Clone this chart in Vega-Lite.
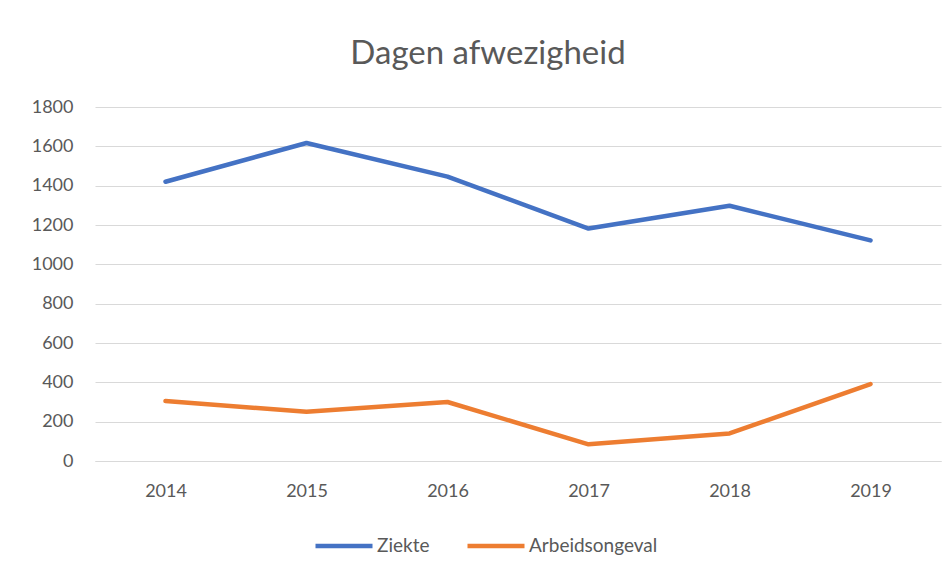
{
  "$schema": "https://vega.github.io/schema/vega-lite/v6.json",
  "width": 846,
  "height": 354,
  "autosize": {"type": "none"},
  "padding": {"left": 95, "top": 107, "right": 10, "bottom": 118},
  "background": "white",
  "title": {
    "text": "Dagen afwezigheid",
    "anchor": "middle",
    "dx": -30,
    "offset": 27,
    "font": "Lato",
    "fontSize": 33,
    "fontWeight": "normal",
    "color": "#595959"
  },
  "data": {
    "values": [
      {"jaar": "2014", "reeks": "Ziekte", "dagen": 1420},
      {"jaar": "2015", "reeks": "Ziekte", "dagen": 1617},
      {"jaar": "2016", "reeks": "Ziekte", "dagen": 1446},
      {"jaar": "2017", "reeks": "Ziekte", "dagen": 1182},
      {"jaar": "2018", "reeks": "Ziekte", "dagen": 1298},
      {"jaar": "2019", "reeks": "Ziekte", "dagen": 1122},
      {"jaar": "2014", "reeks": "Arbeidsongeval", "dagen": 305},
      {"jaar": "2015", "reeks": "Arbeidsongeval", "dagen": 250},
      {"jaar": "2016", "reeks": "Arbeidsongeval", "dagen": 300},
      {"jaar": "2017", "reeks": "Arbeidsongeval", "dagen": 85},
      {"jaar": "2018", "reeks": "Arbeidsongeval", "dagen": 140},
      {"jaar": "2019", "reeks": "Arbeidsongeval", "dagen": 391}
    ]
  },
  "mark": {"type": "line", "strokeWidth": 4.5, "strokeCap": "round", "strokeJoin": "round"},
  "encoding": {
    "x": {
      "field": "jaar",
      "type": "ordinal",
      "scale": {"type": "point", "padding": 0.5},
      "axis": {
        "title": null,
        "labelAngle": 0,
        "ticks": false,
        "grid": false,
        "domain": true,
        "domainColor": "#d9d9d9",
        "domainWidth": 1,
        "labelFont": "Lato",
        "labelFontSize": 18,
        "labelColor": "#595959",
        "labelPadding": 21
      }
    },
    "y": {
      "field": "dagen",
      "type": "quantitative",
      "scale": {"domain": [0, 1800], "nice": false},
      "axis": {
        "title": null,
        "values": [0, 200, 400, 600, 800, 1000, 1200, 1400, 1600, 1800],
        "format": "d",
        "ticks": false,
        "domain": false,
        "grid": true,
        "gridColor": "#d9d9d9",
        "gridWidth": 1,
        "labelFont": "Lato",
        "labelFontSize": 18,
        "labelColor": "#595959",
        "labelPadding": 22
      }
    },
    "color": {
      "field": "reeks",
      "type": "nominal",
      "sort": ["Ziekte", "Arbeidsongeval"],
      "scale": {"domain": ["Ziekte", "Arbeidsongeval"], "range": ["#4472C4", "#ED7D31"]},
      "legend": {
        "title": null,
        "orient": "none",
        "direction": "horizontal",
        "legendX": 218,
        "legendY": 408,
        "symbolType": "stroke",
        "symbolSize": 3249,
        "symbolStrokeWidth": 4.5,
        "labelFont": "Lato",
        "labelFontSize": 19,
        "labelColor": "#595959",
        "labelOffset": 2,
        "columnPadding": 28
      }
    }
  },
  "config": {
    "view": {"stroke": null}
  }
}
